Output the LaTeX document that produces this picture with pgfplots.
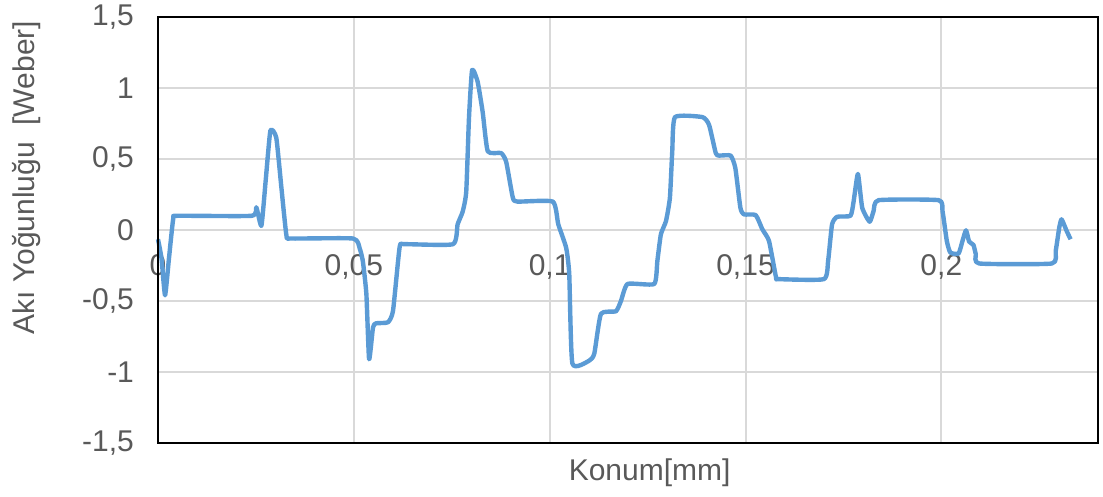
\documentclass[border=0pt]{standalone}
\usepackage{pgfplots}
\pgfplotsset{compat=1.18}
\usepackage{fontspec}
\setmainfont{Liberation Sans}
\definecolor{lineblue}{HTML}{5B9BD5}
\definecolor{gridgray}{HTML}{D9D9D9}
\definecolor{tickgray}{HTML}{595959}
\begin{document}
\begin{tikzpicture}
\useasboundingbox (-79pt,-27pt) rectangle (472.5pt,221.5pt);
\begin{axis}[
  at={(0,0)}, anchor=south west,
  scale only axis, width=470pt, height=213pt,
  xmin=0, xmax=0.24, ymin=-1.5, ymax=1.5,
  axis x line=middle, axis y line=left,
  axis line style={-},
  x axis line style={draw=gridgray, line width=1pt},
  y axis line style={draw=black, line width=1pt},
  hide obscured x ticks=false,
  xtick={0,0.05,0.1,0.15,0.2},
  xticklabels={0,{0,05},{0,1},{0,15},{0,2}},
  ytick={-1.5,-1,-0.5,0,0.5,1,1.5},
  yticklabels={{-1,5},{-1},{-0,5},{0},{0,5},{1},{1,5}},
  major tick length=0pt,
  grid=major, grid style={draw=gridgray, line width=1pt},
  tick label style={font=\fontsize{15}{18}\selectfont, text=tickgray},
  x tick label style={anchor=north, yshift=-8.8pt},
  y tick label style={anchor=east, xshift=-8.5pt},
  xlabel={Konum[mm]},
  ylabel={Akı Yoğunluğu\ \ [Weber]},
  every axis x label/.style={at={(rel axis cs:0.523,0)}, anchor=center, yshift=-15pt, font=\fontsize{15}{18}\selectfont, text=tickgray},
  every axis y label/.style={at={(rel axis cs:-0.1396,0.623)}, anchor=center, rotate=90, font=\fontsize{15}{18}\selectfont, text=tickgray},
  after end axis/.code={\draw[black, line width=1pt] (rel axis cs:0,0) rectangle (rel axis cs:1,1);},
  clip=false,
]
\addplot[lineblue, line width=2.2pt, line join=round, smooth, tension=0.3] coordinates {
(0,-0.065) (0.0009,-0.2) (0.0018,-0.46) (0.0028,-0.2) (0.0039,0.08) (0.0050,0.1)
(0.0239,0.1) (0.0251,0.16) (0.0264,0.03) (0.0275,0.35) (0.0287,0.70) (0.0302,0.65)
(0.0315,0.3) (0.0328,-0.04) (0.0340,-0.06) (0.0498,-0.06) (0.0515,-0.13) (0.0523,-0.22)
(0.0532,-0.45) (0.0539,-0.91) (0.0549,-0.685) (0.0557,-0.657) (0.0587,-0.65) (0.0600,-0.57)
(0.0617,-0.12) (0.0630,-0.1) (0.0753,-0.1) (0.0765,0.04) (0.0778,0.13) (0.0787,0.27)
(0.0794,0.79) (0.0802,1.127) (0.0816,1.045) (0.0829,0.83) (0.0842,0.554) (0.0876,0.542)
(0.0889,0.48) (0.0906,0.227) (0.0918,0.2) (0.1008,0.2) (0.1022,0.04) (0.1042,-0.124)
(0.1050,-0.31) (0.1058,-0.94) (0.1101,-0.92) (0.1114,-0.87) (0.1131,-0.59) (0.1169,-0.573)
(0.1182,-0.50) (0.1199,-0.38) (0.1267,-0.38) (0.1275,-0.217) (0.1284,-0.03) (0.1297,0.063)
(0.1307,0.227) (0.1313,0.554) (0.1320,0.795) (0.1390,0.795) (0.1407,0.74) (0.1424,0.542)
(0.1432,0.524) (0.1462,0.524) (0.1474,0.437) (0.1487,0.156) (0.1496,0.11) (0.1526,0.105)
(0.1543,0.005) (0.1560,-0.077) (0.1578,-0.334) (0.1585,-0.346) (0.1700,-0.346) (0.1711,-0.217)
(0.1721,0.04) (0.1734,0.093) (0.1768,0.1) (0.1776,0.2) (0.1787,0.395) (0.1798,0.157)
(0.1817,0.058) (0.1827,0.133) (0.1840,0.21) (0.1993,0.21) (0.2003,0.133) (0.2014,-0.077)
(0.2023,-0.159) (0.2044,-0.166) (0.2054,-0.077) (0.2063,-0.002) (0.2071,-0.082) (0.2082,-0.105)
(0.2088,-0.17) (0.2097,-0.236) (0.2282,-0.236) (0.2292,-0.147) (0.2301,0.016) (0.2307,0.075)
(0.2320,-0.007) (0.2330,-0.065)
};
\end{axis}
\end{tikzpicture}
\end{document}
